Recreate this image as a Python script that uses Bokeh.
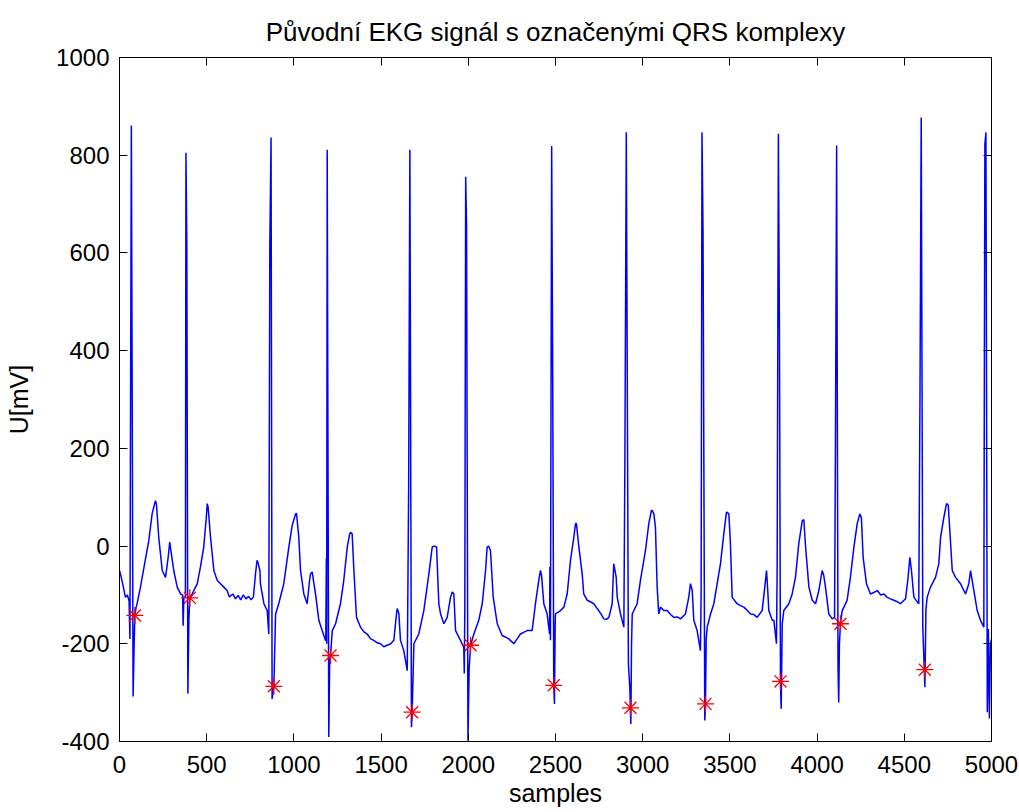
from bokeh.plotting import figure
from bokeh.models import Range1d, FixedTicker, LinearAxis, CustomLabelingPolicy
from bokeh.embed import file_html
from bokeh.resources import INLINE

# ECG signal (sample index, value in mV)
signal_samples = [
    0, 6, 20, 34, 45, 55, 60, 63, 68, 78, 84, 88, 95, 101, 120, 139, 168, 187, 206, 212,
    225, 245, 264, 280, 288, 295, 311, 331, 350, 362, 365, 369, 378, 381, 386, 392, 398, 403, 417, 446,
    464, 483, 498, 503, 508, 522, 541, 560, 579, 598, 617, 630, 650, 665, 680, 695, 710, 725, 740, 755,
    768, 780, 789, 795, 805, 808, 828, 847, 856, 862, 869, 875, 885, 895, 913, 942, 971, 990, 1010, 1015,
    1028, 1038, 1057, 1076, 1090, 1095, 1105, 1112, 1124, 1143, 1162, 1181, 1183, 1186, 1188, 1191, 1195, 1200, 1205, 1210,
    1220, 1239, 1267, 1286, 1306, 1320, 1325, 1334, 1344, 1359, 1382, 1400, 1420, 1440, 1458, 1478, 1497, 1515, 1535, 1555,
    1573, 1585, 1592, 1602, 1611, 1630, 1650, 1658, 1665, 1674, 1678, 1688, 1716, 1745, 1774, 1793, 1805, 1818, 1831, 1841,
    1860, 1879, 1898, 1908, 1917, 1927, 1955, 1974, 1977, 1980, 1985, 1990, 1998, 2005, 2013, 2032, 2060, 2080, 2099, 2108,
    2117, 2127, 2143, 2166, 2194, 2212, 2232, 2250, 2261, 2280, 2299, 2320, 2338, 2366, 2385, 2404, 2414, 2420, 2433, 2452,
    2466, 2468, 2471, 2478, 2484, 2490, 2494, 2498, 2500, 2529, 2548, 2567, 2586, 2605, 2615, 2620, 2634, 2653, 2662, 2682,
    2700, 2720, 2735, 2748, 2762, 2777, 2792, 2806, 2825, 2834, 2848, 2854, 2873, 2892, 2898, 2906, 2918, 2926, 2932, 2936,
    2940, 2968, 2987, 3016, 3035, 3050, 3054, 3064, 3073, 3083, 3092, 3102, 3121, 3140, 3160, 3179, 3198, 3217, 3245, 3264,
    3274, 3284, 3293, 3312, 3331, 3335, 3340, 3346, 3356, 3360, 3364, 3370, 3389, 3408, 3427, 3446, 3465, 3480, 3484, 3494,
    3503, 3513, 3541, 3560, 3580, 3600, 3618, 3637, 3656, 3685, 3700, 3710, 3717, 3723, 3743, 3752, 3767, 3771, 3778, 3784,
    3790, 3794, 3800, 3809, 3838, 3857, 3876, 3895, 3915, 3924, 3934, 3953, 3972, 3991, 4010, 4029, 4038, 4048, 4067, 4087,
    4100, 4105, 4112, 4120, 4124, 4128, 4134, 4144, 4172, 4191, 4211, 4230, 4245, 4254, 4264, 4283, 4306, 4325, 4345, 4365,
    4383, 4402, 4420, 4440, 4460, 4478, 4495, 4507, 4520, 4532, 4541, 4555, 4583, 4590, 4597, 4606, 4618, 4624, 4631, 4650,
    4679, 4698, 4708, 4727, 4742, 4752, 4761, 4775, 4794, 4822, 4851, 4870, 4880, 4889, 4899, 4918, 4937, 4956, 4962, 4968,
    4976, 4982, 4988, 4994, 5000,
]
signal_mv = [
    -50, -58, -80, -105, -100, -112, -190, 228, 861, -308, -200, -142, -125, -118, -84, -46, 11, 66, 93, 85,
    18, -50, -64, -20, 8, -10, -50, -84, -98, -100, -163, -105, -105, 805, 620, -302, -150, -106, -98, -77,
    -43, -2, 60, 87, 80, 18, -50, -70, -77, -84, -91, -104, -98, -108, -101, -110, -100, -108, -103, -110,
    -104, -56, -29, -35, -50, -77, -118, -132, -180, 619, 836, -313, -287, -139, -118, -77, -2, 42, 66, 67,
    18, -50, -98, -118, -70, -57, -53, -70, -98, -152, -173, -193, -193, -25, -200, 811, 245, -391, -240, -224,
    -173, -159, -118, -70, -2, 25, 28, 25, -50, -146, -166, -175, -180, -190, -193, -198, -200, -206, -203, -200,
    -193, -150, -128, -138, -193, -214, -255, 120, 811, -371, -340, -200, -180, -132, -57, -2, 0, -2, -118, -139,
    -159, -146, -105, -94, -98, -173, -193, -207, -261, -128, 756, 654, -398, -250, -203, -180, -152, -118, -50, -2,
    0, -9, -105, -159, -183, -186, -190, -196, -200, -190, -180, -176, -173, -173, -118, -70, -50, -60, -118, -139,
    -180, -43, -193, 819, 345, -285, -323, -160, -139, -132, -125, -98, -29, 18, 46, 46, -2, -57, -98, -111,
    -114, -118, -126, -132, -140, -149, -150, -146, -118, -36, -64, -105, -139, -166, 187, 847, -241, -289, -364, -200,
    -139, -118, -70, -9, 46, 73, 73, 66, 39, -84, -139, -125, -132, -132, -140, -146, -145, -149, -139, -105,
    -77, -91, -152, -173, -214, -98, 847, 639, -357, -323, -190, -166, -139, -118, -77, -36, 25, 69, 69, 66,
    5, -105, -118, -122, -125, -132, -139, -140, -146, -132, -84, -50, -91, -132, -152, -152, -200, -43, 844, 445,
    -277, -333, -160, -132, -118, -98, -64, 5, 52, 54, -2, -84, -111, -118, -91, -50, -60, -84, -139, -149,
    -146, 187, 820, -250, -320, -200, -159, -132, -111, -64, -2, 46, 66, 58, -23, -77, -98, -95, -91, -100,
    -98, -105, -108, -111, -114, -118, -112, -108, -70, -23, -50, -105, -118, 312, 877, -166, -289, -130, -105, -84,
    -64, -36, 18, 59, 87, 84, 32, -50, -64, -77, -98, -77, -50, -70, -91, -132, -152, -166, 823, 847,
    -340, -170, -353, -200, -190,
]

# QRS markers
qrs_samples = [88, 403, 885, 1210, 1678, 2013, 2490, 2930, 3360, 3790, 4134, 4618]
qrs_mv = [-142, -106, -287, -224, -340, -203, -285, -331, -323, -277, -159, -253]

x_ticks = [0, 500, 1000, 1500, 2000, 2500, 3000, 3500, 4000, 4500, 5000]
y_ticks = [-400, -200, 0, 200, 400, 600, 800, 1000]
y_tick_labels = {t: str(t) for t in y_ticks}

FONT = "Liberation Sans"

p = figure(width=1019, height=812, output_backend="svg", toolbar_location=None,
           x_range=Range1d(0, 5000), y_range=Range1d(-400, 1000),
           min_border_left=119, min_border_right=28, min_border_top=57, min_border_bottom=71)

p.title.text = "Původní EKG signál s označenými QRS komplexy"
p.title.align = "center"
p.title.text_font = FONT
p.title.text_font_size = "26px"
p.title.text_font_style = "normal"
p.title.text_color = "black"
p.title.standoff = 22

p.xgrid.visible = False
p.ygrid.visible = False
p.outline_line_color = "black"
p.outline_line_width = 1
p.background_fill_color = "white"
p.border_fill_color = "white"

p.line(signal_samples, signal_mv, line_color="#0000FF", line_width=1.5)
p.scatter(qrs_samples, qrs_mv, marker="asterisk", size=17, line_color="#FF0000", line_width=1.3)

hide_all = CustomLabelingPolicy(code="""
const ids = [...indices]
for (const i of ids) indices.unset(i)
return indices
""")

def style_axis(ax, ticks, show_labels):
    ax.ticker = FixedTicker(ticks=ticks)
    ax.minor_tick_line_color = None
    ax.major_tick_in = 8
    ax.major_tick_out = 0
    ax.axis_line_color = "black"
    ax.major_tick_line_color = "black"
    ax.major_label_text_font = FONT
    ax.major_label_text_color = "black"
    ax.axis_label_text_font = FONT
    ax.axis_label_text_font_style = "normal"
    ax.axis_label_text_font_size = "25px"
    ax.axis_label_text_color = "black"
    if show_labels:
        ax.major_label_text_font_size = "24px"
    else:
        ax.major_label_text_font_size = "0px"
        ax.major_label_standoff = 0
        ax.major_label_policy = hide_all

xa = p.xaxis[0]
style_axis(xa, x_ticks, True)
xa.axis_label = "samples"
xa.major_label_standoff = 14
xa.axis_label_standoff = 3

ya = p.yaxis[0]
style_axis(ya, y_ticks, True)
ya.axis_label = "U[mV]"
ya.major_label_standoff = 10
ya.axis_label_standoff = 20
ya.major_label_overrides = y_tick_labels

top = LinearAxis()
style_axis(top, x_ticks, False)
p.add_layout(top, "above")
right = LinearAxis()
style_axis(right, y_ticks, False)
p.add_layout(right, "right")

open("out.html", "w").write(file_html(p, INLINE))
